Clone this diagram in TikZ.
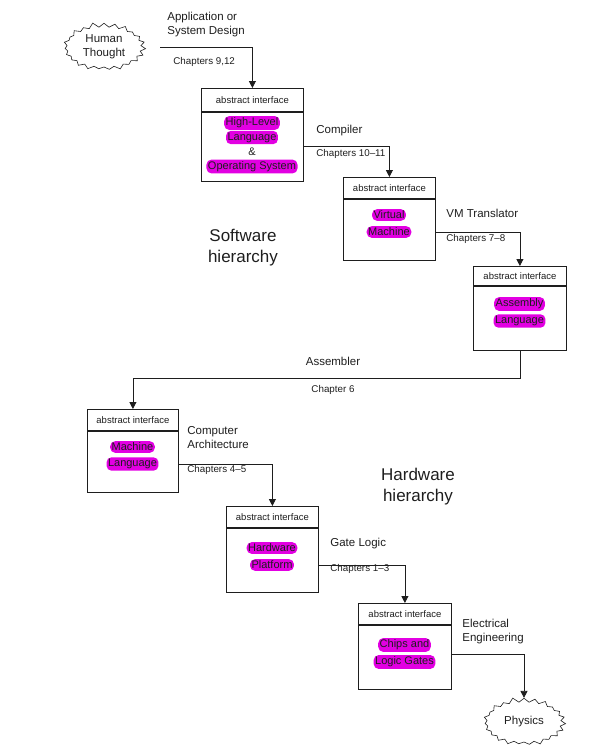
\documentclass[tikz,border=0pt]{standalone}
\usepackage{fontspec}
\setmainfont{Liberation Sans}
\definecolor{hlmag}{RGB}{226, 0, 226}
\definecolor{inkgray}{RGB}{30, 30, 30}
\usetikzlibrary{shapes.symbols, arrows.meta, positioning}

\begin{document}
\begin{tikzpicture}[x=1pt, y=-1pt, line width=0.8pt, draw=inkgray, text=inkgray,
  headbox/.style={draw, minimum height=21pt, inner sep=0pt, font=\fontsize{9.5}{11}\selectfont},
  bodybox/.style={draw, inner sep=0pt},
  hl/.style={fill=hlmag, rounded corners=5pt, inner xsep=1.5pt, inner ysep=1.8pt, font=\fontsize{11}{13}\selectfont},
  lbl/.style={anchor=west, inner sep=0pt, align=left, font=\fontsize{11.5}{14}\selectfont},
  chap/.style={anchor=west, inner sep=0pt, font=\fontsize{9.8}{12}\selectfont},
  burst/.style={draw, line width=0.6pt, starburst, starburst points=23, starburst point height=5pt, random starburst=11,
    minimum width=84pt, minimum height=50pt, inner sep=0pt, align=center, font=\fontsize{11.5}{14}\selectfont},
  link/.style={-{Triangle[width=7pt, length=7pt]}}]
  \useasboundingbox (0,0) rectangle (601,753);

  % Clouds at both ends
  \node[burst] (thought) at (104,47) {Human\\Thought};
  \node[burst] (physics) at (524,722) {Physics};

  % Software side
  \node[headbox, minimum width=102pt, minimum height=23pt, anchor=north west] (hll-h) at (201,88) {abstract interface};
  \node[bodybox, minimum width=102pt, minimum height=69pt, anchor=north] (hll) at (hll-h.south) {};
  \node[hl] (hll-1) at (252,123) {High-Level};
  \node[hl] (hll-2) at (252,137.5) {Language};
  \node[font=\fontsize{11}{13}\selectfont, inner sep=1pt] (hll-3) at (252,152) {\&};
  \node[hl] (hll-4) at (252,166.5) {Operating System};

  \node[headbox, minimum width=92pt, anchor=north west] (vm-h) at (343,177) {abstract interface};
  \node[bodybox, minimum width=92pt, minimum height=61pt, anchor=north] (vm) at (vm-h.south) {};
  \node[hl] (vm-1) at (389,215) {Virtual};
  \node[hl] (vm-2) at (389,232) {Machine};

  \node[headbox, minimum width=93pt, minimum height=19pt, anchor=north west] (asm-h) at (473,266) {abstract interface};
  \node[bodybox, minimum width=93pt, minimum height=64pt, anchor=north] (asm) at (asm-h.south) {};
  \node[hl] (asm-1) at (519.5,304) {Assembly};
  \node[hl] (asm-2) at (519.5,321) {Language};

  % Hardware side
  \node[headbox, minimum width=91pt, anchor=north west] (ml-h) at (87,409) {abstract interface};
  \node[bodybox, minimum width=91pt, minimum height=61pt, anchor=north] (ml) at (ml-h.south) {};
  \node[hl] (ml-1) at (132.5,447) {Machine};
  \node[hl] (ml-2) at (132.5,464) {Language};

  \node[headbox, minimum width=92pt, anchor=north west] (hw-h) at (226,506) {abstract interface};
  \node[bodybox, minimum width=92pt, minimum height=64pt, anchor=north] (hw) at (hw-h.south) {};
  \node[hl] (hw-1) at (272,548) {Hardware};
  \node[hl] (hw-2) at (272,565) {Platform};

  \node[headbox, minimum width=93pt, anchor=north west] (chip-h) at (358,603) {abstract interface};
  \node[bodybox, minimum width=93pt, minimum height=64pt, anchor=north] (chip) at (chip-h.south) {};
  \node[hl] (chip-1) at (404.5,645) {Chips and};
  \node[hl] (chip-2) at (404.5,662) {Logic Gates};

  % Hierarchy titles
  \node[align=center, font=\fontsize{17}{21}\selectfont] (sw-title) at (243,248) {Software\\hierarchy};
  \node[align=center, font=\fontsize{17}{21}\selectfont] (hw-title) at (418,487) {Hardware\\hierarchy};

  % Connectors
  \coordinate (start) at (160,47);
  \draw[link] (start) -| (hll-h.north);
  \draw[link] (hll.east) -| (vm-h.north);
  \draw[link] ([yshift=-3pt]vm.east) -| (asm-h.north);
  \draw[link] (asm.south) -- ++(0,28) -| (ml-h.north);
  \draw[link] ([yshift=-3pt]ml.east) -| (hw-h.north);
  \draw[link] ([yshift=-5pt]hw.east) -| (chip-h.north);
  \draw[link] ([yshift=3pt]chip.east) -| (physics.north);

  % Connector labels
  \node[lbl] (l-app) at (167,25) {Application or\\System Design};
  \node[chap] (c-app) at (173,62) {Chapters 9,12};
  \node[lbl] (l-comp) at (316,131) {Compiler};
  \node[chap] (c-comp) at (316,154) {Chapters 10--11};
  \node[lbl] (l-vm) at (446,213) {VM Translator};
  \node[chap] (c-vm) at (446,239) {Chapters 7--8};
  \node[lbl, anchor=center] (l-asm) at (333,361) {Assembler};
  \node[chap, anchor=center] (c-asm) at (333,390) {Chapter 6};
  \node[lbl] (l-arch) at (187,438) {Computer\\Architecture};
  \node[chap] (c-arch) at (187,470) {Chapters 4--5};
  \node[lbl] (l-gate) at (330,544) {Gate Logic};
  \node[chap] (c-gate) at (330,569) {Chapters 1--3};
  \node[lbl] (l-ee) at (462,632) {Electrical\\Engineering};
\end{tikzpicture}
\end{document}
